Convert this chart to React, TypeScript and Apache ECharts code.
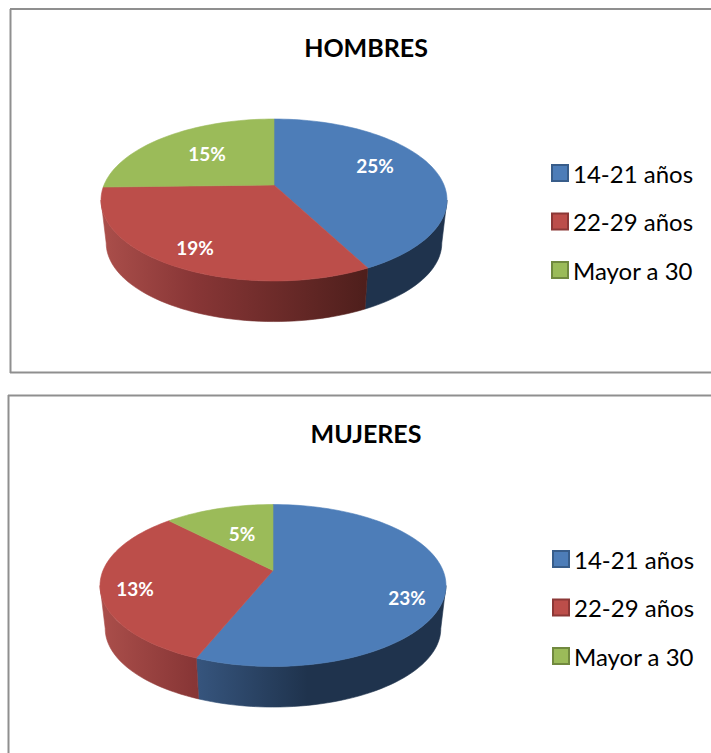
import React, { useEffect, useRef } from "react";
import * as echarts from "echarts";

const categories = ["14-21 años", "22-29 años", "Mayor a 30"];
const hombresValues = [25, 19, 15];
const mujeresValues = [23, 13, 5];
const titles = ["HOMBRES", "MUJERES"];

const colors = ["#4d7db8", "#bc4e4a", "#9bbb59"];
const legendBorders = ["#385d8a", "#8c3836", "#71893f"];
const wallStops = [
  [[0, "#3f6796"], [0.27, "#37567f"], [0.6, "#1f334d"], [1, "#1f334d"]],
  [[0, "#ab4f4b"], [0.27, "#883636"], [0.76, "#4f1f1c"], [1, "#4f1f1c"]],
  [[0, "#9bbb59"], [1, "#5c7034"]],
];

const font = "Lato, Carlito, Calibri, sans-serif";
const K = 0.185;
const RX = 170;
const RY = 78.2;
const DEPTH = 43.5;
const SHRINK = 0.97;
const FRONT: [number, number] = [100.7, 259.3];

const panels = [
  {
    values: hombresValues, cx: 274, cy: 185,
    labels: [[375, 165], [195, 247], [207, 153]],
    titleY: 34, legendX: 551, legendY: 161,
  },
  {
    values: mujeresValues, cx: 273, cy: 570.5,
    labels: [[407, 597], [135, 588], [242, 533]],
    titleY: 420, legendX: 552, legendY: 547,
  },
];

function project(deg: number) {
  const t = (deg * Math.PI) / 180;
  const u = Math.sin(t);
  const v = Math.cos(t);
  const den = 1 + K * v;
  return [RX * (u / den), -RY * (v / den)];
}

function arcPoints(a0: number, a1: number, cx: number, cy: number, scale: number, dy: number) {
  const pts: number[][] = [];
  const n = Math.max(2, Math.ceil(Math.abs(a1 - a0) / 2));
  for (let i = 0; i <= n; i++) {
    const p = project(a0 + ((a1 - a0) * i) / n);
    pts.push([cx + p[0] * scale, cy + dy + p[1] * scale]);
  }
  return pts;
}

function sliceSeries(panelIndex: number, sliceIndex: number) {
  const panel = panels[panelIndex];
  const total = panel.values.reduce((a, b) => a + b, 0);
  const before = panel.values.slice(0, sliceIndex).reduce((a, b) => a + b, 0);
  const start = (before / total) * 360;
  const end = ((before + panel.values[sliceIndex]) / total) * 360;
  return {
    type: "custom",
    name: categories[sliceIndex],
    coordinateSystem: "none",
    silent: true,
    itemStyle: { color: colors[sliceIndex], borderColor: legendBorders[sliceIndex], borderWidth: 2 },
    data: [[panel.values[sliceIndex]]],
    renderItem: (_params: any, api: any) => {
      const value = api.value(0);
      const { cx, cy } = panel;
      const children: any[] = [];
      const a0 = Math.max(start, FRONT[0]);
      const a1 = Math.min(end, FRONT[1]);
      if (a1 > a0) {
        const upper = arcPoints(a0, a1, cx, cy, 1, 0);
        const lower = arcPoints(a1, a0, cx, cy, SHRINK, DEPTH);
        const stops = wallStops[sliceIndex].map(([offset, color]) => ({ offset, color }));
        const fill = new echarts.graphic.LinearGradient(cx - 173, 0, cx + 173, 0, stops as any, true);
        children.push({
          type: "polygon",
          z2: 1,
          shape: { points: upper.concat(lower) },
          style: { fill, stroke: fill, lineWidth: 0.6 },
        });
      }
      children.push({
        type: "polygon",
        z2: 10,
        shape: { points: [[cx, cy], ...arcPoints(start, end, cx, cy, 1, 0)] },
        style: { fill: colors[sliceIndex], stroke: colors[sliceIndex], lineWidth: 0.6 },
      });
      const [lx, ly] = panel.labels[sliceIndex];
      children.push({
        type: "text",
        z2: 20,
        style: {
          x: lx, y: ly, text: `${value}%`, fill: "#ffffff",
          font: `bold 19px ${font}`, textAlign: "center", textVerticalAlign: "middle",
        },
      });
      return { type: "group", children };
    },
  };
}

const borderLine = (x1: number, y1: number, x2: number, y2: number) => ({
  type: "line",
  silent: true,
  shape: { x1, y1, x2, y2 },
  style: { stroke: "#8f8f8f", lineWidth: 2 },
});

export default function App() {
  const ref = useRef<HTMLDivElement>(null);
  useEffect(() => {
    const chart = echarts.init(ref.current!, undefined, { renderer: "svg" });
    chart.setOption({
      animation: false,
      backgroundColor: "#ffffff",
      title: panels.map((p, i) => ({
        text: titles[i],
        left: 366,
        top: p.titleY,
        padding: 0,
        textAlign: "center",
        textStyle: { color: "#000000", fontFamily: font, fontWeight: "bold", fontSize: 25 },
      })),
      legend: panels.map((p) => ({
        data: categories,
        orient: "vertical",
        left: p.legendX,
        top: p.legendY,
        padding: 0,
        itemWidth: 16,
        itemHeight: 16,
        itemGap: 24.5,
        icon: "rect",
        selectedMode: false,
        textStyle: { color: "#000000", fontFamily: font, fontSize: 24, padding: [0, 0, 3, 0] },
      })),
      series: panels.flatMap((_, pi) => categories.map((_c, si) => sliceSeries(pi, si))),
      graphic: [
        borderLine(10, 9, 711, 9),
        borderLine(10.5, 9, 10.5, 373),
        borderLine(10, 372.5, 711, 372.5),
        borderLine(8, 395.5, 711, 395.5),
        borderLine(8.5, 395, 8.5, 753),
      ],
    });
    return () => chart.dispose();
  }, []);
  return <div ref={ref} style={{ position: "absolute", left: 0, top: 0, width: 711, height: 753 }} />;
}
